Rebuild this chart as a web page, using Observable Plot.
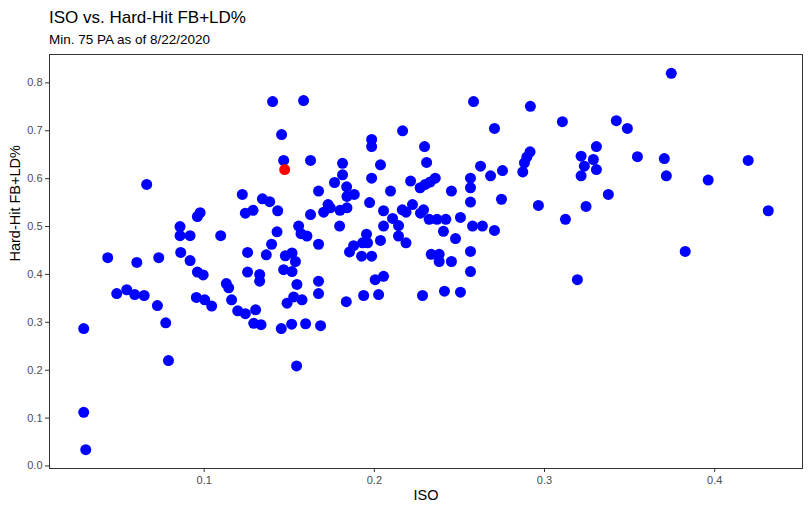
<!DOCTYPE html>
<html>
<head>
<meta charset="utf-8">
<script src="https://cdn.jsdelivr.net/npm/d3@7"></script>
<script src="https://cdn.jsdelivr.net/npm/@observablehq/plot@0.6"></script>
<style>
  html, body { margin: 0; padding: 0; background: #fff; }
  body { width: 810px; height: 513px; overflow: hidden; font-family: "Liberation Sans", Arial, sans-serif; }
  #head { height: 50px; position: relative; }
  #title { position: absolute; left: 49px; top: 8px; font-size: 17px; color: #000; }
  #subtitle { position: absolute; left: 49px; top: 32px; font-size: 13.5px; color: #000; }
  #chart svg { display: block; }
</style>
</head>
<body>
<div id="head">
  <div id="title">ISO vs. Hard-Hit FB+LD%</div>
  <div id="subtitle">Min. 75 PA as of 8/22/2020</div>
</div>
<div id="chart"></div>
<script>
// ISO (x) and Hard-Hit FB+LD% (y) for all qualified hitters
const iso = [
  0.0292, 0.0292, 0.0304, 0.0433, 0.0486, 0.0545, 0.0592, 0.0647, 0.0604, 0.0662,
  0.0733, 0.0725, 0.0774, 0.0790, 0.0858, 0.0858, 0.0917, 0.0862, 0.0917, 0.0960,
  0.0994, 0.0960, 0.0976, 0.1097, 0.0954, 0.1003, 0.1044, 0.1130, 0.1144, 0.1161,
  0.1197, 0.1402, 0.1584, 0.1455, 0.1467, 0.1625, 0.2166, 0.1984, 0.1984, 0.2036,
  0.1813, 0.1813, 0.1766, 0.1837, 0.1984, 0.2213, 0.2269, 0.1672, 0.2095, 0.1224,
  0.1342, 0.1385, 0.1839, 0.1882, 0.1242, 0.1287, 0.1432, 0.1625, 0.1702, 0.1728,
  0.1741, 0.1798, 0.1839, 0.1972, 0.2054, 0.2107, 0.2164, 0.2186, 0.2224, 0.2271,
  0.1555, 0.1428, 0.1569, 0.1604, 0.1796, 0.2054, 0.2142, 0.1954, 0.2036, 0.2142,
  0.2186, 0.1396, 0.1672, 0.1255, 0.1365, 0.1477, 0.1516, 0.1536, 0.1878, 0.1854,
  0.1931, 0.1960, 0.1925, 0.1984, 0.1255, 0.1326, 0.1326, 0.1242, 0.1302, 0.1291,
  0.1334, 0.1453, 0.1514, 0.1596, 0.1684, 0.1543, 0.1467, 0.1516, 0.1545, 0.1672,
  0.1672, 0.1487, 0.1526, 0.1575, 0.1835, 0.1937, 0.2025, 0.2005, 0.2054, 0.2583,
  0.2917, 0.3105, 0.2706, 0.2295, 0.2307, 0.3305, 0.3215, 0.3287, 0.3234, 0.3305,
  0.3215, 0.3375, 0.2915, 0.2896, 0.2882, 0.2872, 0.2624, 0.2683, 0.2753, 0.2565,
  0.2565, 0.2358, 0.2328, 0.2299, 0.2453, 0.2565, 0.2747, 0.2964, 0.3244, 0.3123,
  0.2289, 0.2322, 0.2368, 0.2420, 0.2506, 0.2406, 0.2477, 0.2577, 0.2635, 0.2706,
  0.2334, 0.2381, 0.2381, 0.2453, 0.2565, 0.2565, 0.3193, 0.2283, 0.2412, 0.2506,
  0.3745, 0.3422, 0.3487, 0.3546, 0.3704, 0.3716, 0.3962, 0.4197, 0.4315, 0.3827
];
const hardHit = [
  0.287, 0.112, 0.034, 0.435, 0.360, 0.368, 0.358, 0.356, 0.425, 0.588,
  0.435, 0.335, 0.299, 0.220, 0.500, 0.481, 0.481, 0.446, 0.429, 0.405,
  0.399, 0.521, 0.529, 0.481, 0.352, 0.347, 0.334, 0.381, 0.372, 0.347,
  0.324, 0.761, 0.763, 0.692, 0.638, 0.638, 0.700, 0.682, 0.667, 0.629,
  0.632, 0.608, 0.592, 0.583, 0.601, 0.595, 0.581, 0.574, 0.574, 0.567,
  0.558, 0.552, 0.563, 0.567, 0.528, 0.534, 0.533, 0.525, 0.530, 0.546,
  0.539, 0.534, 0.539, 0.550, 0.533, 0.517, 0.535, 0.530, 0.546, 0.528,
  0.501, 0.489, 0.485, 0.480, 0.501, 0.501, 0.502, 0.484, 0.471, 0.480,
  0.466, 0.463, 0.463, 0.446, 0.441, 0.439, 0.445, 0.427, 0.460, 0.447,
  0.466, 0.466, 0.438, 0.438, 0.405, 0.400, 0.386, 0.318, 0.326, 0.298,
  0.295, 0.287, 0.296, 0.297, 0.293, 0.209, 0.410, 0.406, 0.379, 0.386,
  0.360, 0.340, 0.353, 0.347, 0.343, 0.356, 0.358, 0.389, 0.396, 0.761,
  0.751, 0.719, 0.705, 0.667, 0.634, 0.667, 0.647, 0.640, 0.626, 0.619,
  0.606, 0.567, 0.656, 0.645, 0.633, 0.614, 0.626, 0.606, 0.617, 0.601,
  0.581, 0.601, 0.593, 0.588, 0.574, 0.551, 0.557, 0.544, 0.542, 0.515,
  0.535, 0.515, 0.515, 0.515, 0.519, 0.490, 0.475, 0.501, 0.501, 0.492,
  0.442, 0.442, 0.427, 0.427, 0.448, 0.406, 0.389, 0.356, 0.365, 0.363,
  0.820, 0.721, 0.705, 0.646, 0.642, 0.606, 0.597, 0.638, 0.533, 0.448
];
// highlighted hitter
const isoHighlight = [0.1473];
const hardHitHighlight = [0.619];

const xTicks = [0.1, 0.2, 0.3, 0.4];
const yTicks = [0.0, 0.1, 0.2, 0.3, 0.4, 0.5, 0.6, 0.7, 0.8];
const xLabel = "ISO";
const yLabel = "Hard-Hit FB+LD%";

const blue = iso.map((x, i) => ({x, y: hardHit[i]}));
const red = isoHighlight.map((x, i) => ({x, y: hardHitHighlight[i]}));
const all = blue.concat(red);

function expand([a, b]) { const d = (b - a) * 0.05; return [a - d, b + d]; }
const xDomain = expand(d3.extent(all, d => d.x));
const yDomain = expand(d3.extent(all, d => d.y));

const chart = Plot.plot({
  width: 810,
  height: 463,
  marginTop: 4,
  marginBottom: 45,
  marginLeft: 49,
  marginRight: 8,
  style: { fontFamily: "'Liberation Sans', Arial, sans-serif", fontSize: "11px", background: "#fff", overflow: "visible" },
  x: { domain: xDomain },
  y: { domain: yDomain },
  marks: [
    Plot.axisX({ ticks: xTicks, tickFormat: d3.format(".1f"), tickSize: 4, tickPadding: 4,
      color: "#4D4D4D", stroke: "#333", fontSize: 11, label: null }),
    Plot.axisY({ ticks: yTicks, tickFormat: d3.format(".1f"), tickSize: 4, tickPadding: 3,
      color: "#4D4D4D", stroke: "#333", fontSize: 11, label: null }),
    Plot.text([xLabel], { frameAnchor: "bottom", dy: 31, fontSize: 14.5, fill: "#000", text: d => d }),
    Plot.text([yLabel], { frameAnchor: "left", dx: -34, rotate: -90, fontSize: 14.5, fill: "#000", text: d => d }),
    Plot.frame({ stroke: "#333", strokeWidth: 1 }),
    Plot.dot(blue, { x: "x", y: "y", r: 5.5, fill: "#0000FF", stroke: "none" }),
    Plot.dot(red, { x: "x", y: "y", r: 5.5, fill: "#FF0000", stroke: "none" })
  ]
});
document.getElementById("chart").appendChild(chart);
</script>
</body>
</html>
